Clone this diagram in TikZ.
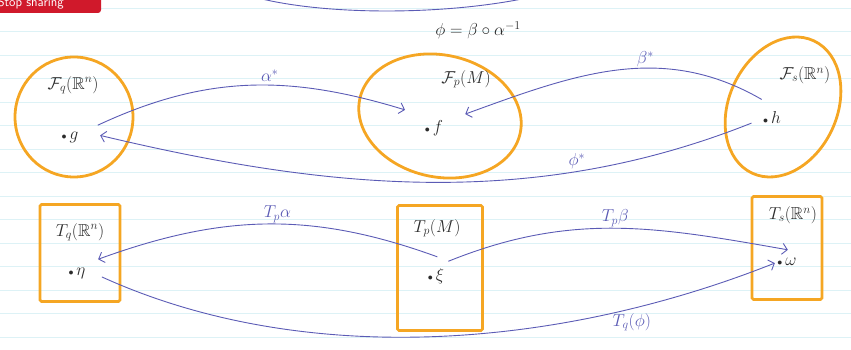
\documentclass[tikz,border=0pt]{standalone}
\usepackage{amssymb}
\usepackage{tikz}
\usetikzlibrary{arrows.meta,shapes.geometric}
\definecolor{penblue}{HTML}{5B5BB5}
\definecolor{marker}{HTML}{F5A623}
\definecolor{ink}{HTML}{2B2B2B}
\definecolor{ruling}{HTML}{DDF2F6}
\definecolor{zoomred}{HTML}{D0192B}
\newcommand{\elt}[1]{{\normalsize$\bullet$}\,$#1$}
\tikzset{
  blob/.style   ={ellipse,draw=marker,line width=2.8pt},
  sheet/.style  ={rectangle,draw=marker,line width=2.8pt,rounded corners=1.5pt},
  tag/.style    ={text=ink,font=\LARGE},
  elem/.style   ={circle,inner sep=0pt,text=ink,font=\LARGE},
  mapto/.style  ={-{Straight Barb[length=5pt,width=11pt]},line width=0.9pt,draw=penblue},
  mapline/.style={line width=0.9pt,draw=penblue},
  maplbl/.style ={text=penblue,font=\LARGE,inner sep=1pt},
  rule/.style   ={draw=ruling,line width=0.7pt}
}

\begin{document}
\begin{tikzpicture}[x=1pt,y=1pt]
    \useasboundingbox (0,0) rectangle (851,350);
    \clip (0,0) rectangle (851,350);
    \foreach \k in {0,...,14}
      \draw[rule] (0,{342-23.5*\k}) -- (851,{342-23.5*\k});
    \fill[zoomred,rounded corners=3pt] (-10,337) rectangle (101,362);
    \node[anchor=base west,text=white,font=\sffamily\fontsize{13}{13}\selectfont] (stop) at (-6,343) {Stop sharing};
    \draw[mapline] (262,351) .. controls (330,335) and (440,335) .. (522,351);
    \node[tag] (comp) at (478,320) {$\phi=\beta\circ\alpha^{-1}$};

    \node[blob,minimum width=118,minimum height=120] (Fq) at (74,233) {};
    \node[blob,minimum width=164,minimum height=122,rotate=-12] (Fp) at (440,234) {};
    \node[blob,minimum width=108,minimum height=146,rotate=-25] (Fs) at (783,243) {};
    \node[tag] (Fq-l) at (73,265) {$\mathcal{F}_q(\mathbb{R}^n)$};
    \node[tag] (Fp-l) at (466,271) {$\mathcal{F}_p(M)$};
    \node[tag] (Fs-l) at (805,275) {$\mathcal{F}_s(\mathbb{R}^n)$};
    \node[elem,minimum size=60] (g) at (70,213) {\elt{g}};
    \node[elem,minimum size=68] (f) at (434,222) {\elt{f}};
    \node[elem,minimum size=42] (h) at (772,232) {\elt{h}};

    \node[sheet,minimum width=80,minimum height=97] (Tq) at (80,97) {};
    \node[sheet,minimum width=85,minimum height=125] (Tp) at (440,82) {};
    \node[sheet,minimum width=70,minimum height=103] (Ts) at (787,102) {};
    \node[tag] (Tq-l) at (80,118) {$T_q(\mathbb{R}^n)$};
    \node[tag] (Tp-l) at (437,122) {$T_p(M)$};
    \node[tag] (Ts-l) at (793,135) {$T_s(\mathbb{R}^n)$};
    \node[elem,minimum size=50] (eta) at (77,77) {\elt{\eta}};
    \node[elem,minimum size=38] (xi) at (436,74) {\elt{\xi}};
    \node[elem,minimum size=24] (omega) at (787,88) {\elt{\omega}};

    \draw[mapto] (g.23) to[out=25,in=163] node[maplbl,pos=.57,above=2pt] {$\alpha^*$} (f.148);
    \draw[mapto] (h.119) to[out=150,in=20] node[maplbl,pos=.4,above=0pt] {$\beta^*$} (f.24);
    \draw[mapto] (h.194) .. controls (533,140) and (329,160) .. (g.3)
      node[maplbl,pos=.27,above=1pt] {$\phi^*$};
    \draw[mapto] (xi.86) to[out=160,in=20] node[maplbl,pos=.47,above=0pt] {$T_p\alpha$} (eta.33);
    \draw[mapto] (xi.50) to[out=22,in=170] node[maplbl,pos=.5,above=0pt] {$T_p\beta$} (omega.86);
    \draw[mapto] (eta.-9) .. controls (300,-17) and (553,-1) .. (omega.185)
      node[maplbl,pos=.79,below=3pt] {$T_q(\phi)$};
  \end{tikzpicture}
\end{document}
